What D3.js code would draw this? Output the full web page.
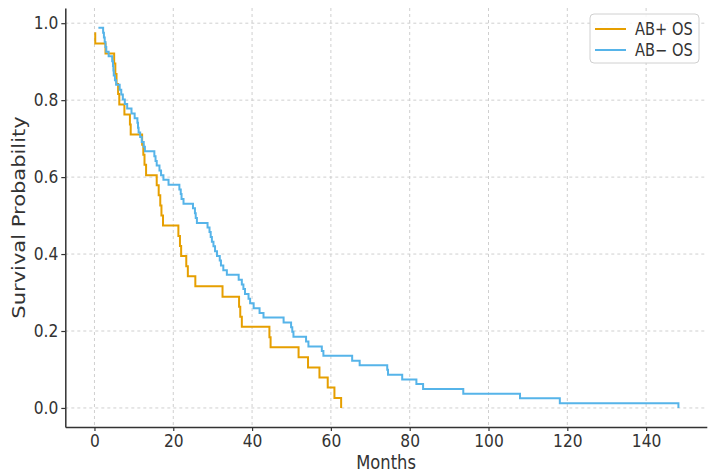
<!DOCTYPE html>
<html>
<head>
<meta charset="utf-8">
<script src="https://cdn.jsdelivr.net/npm/d3@7"></script>
<style>
  body { margin: 0; background: #fff; }
  svg { display: block; }
  text { font-family: "DejaVu Sans", sans-serif; fill: #333; }
</style>
</head>
<body>
<svg id="chart" width="714" height="476"></svg>
<script>
// ---- data (months, survival probability) ----
const seriesNames = ["AB+ OS", "AB\u2212 OS"];
const seriesColors = ["#E69F00", "#56B4E9"];

const abPosTime = [0, 0.2, 2.8, 5.0, 5.3, 5.6, 6.0, 6.3, 7.6, 9.0, 9.2, 12.1, 12.4, 12.7, 13.1,
  15.8, 16.3, 16.7, 17.0, 17.4, 21.3, 21.7, 22.0, 23.3, 23.7, 25.6, 32.5, 36.7, 37.0, 37.4,
  44.4, 44.7, 51.8, 54.2, 57.1, 59.2, 60.9, 62.6];
const abPosSurv = [0.974, 0.947, 0.921, 0.895, 0.868, 0.842, 0.816, 0.789, 0.763, 0.737, 0.711,
  0.684, 0.658, 0.632, 0.605, 0.579, 0.553, 0.526, 0.500, 0.474, 0.447, 0.421, 0.395, 0.368,
  0.342, 0.316, 0.289, 0.263, 0.237, 0.211, 0.184, 0.158, 0.132, 0.105, 0.079, 0.053, 0.026, 0.000];

const abNegTime = [1.0, 2.2, 2.4, 2.6, 2.8, 3.0, 3.6, 4.5, 4.7, 4.8, 4.9, 5.2, 5.5, 6.4, 6.8, 7.2,
  7.7, 8.3, 9.4, 10.2, 10.9, 11.05, 11.2, 11.6, 12.0, 12.5, 12.8, 15.2, 15.5, 15.8, 16.5, 16.9,
  17.5, 18.8, 21.55, 21.9, 22.1, 22.6, 25.0, 25.5, 25.7, 26.0, 28.7, 29.2, 29.5, 29.8, 30.2,
  30.6, 31.1, 31.8, 32.1, 32.7, 33.6, 36.6, 37.4, 37.8, 38.2, 39.1, 39.5, 40.4, 41.9, 42.9,
  48.0, 49.9, 50.2, 50.5, 53.7, 54.3, 57.7, 58.1, 65.4, 67.3, 74.3, 74.5, 78.1, 81.7, 83.4,
  93.6, 108.0, 118.1, 148.2];
const abNegSurv = [0.988, 0.975, 0.963, 0.951, 0.938, 0.926, 0.914, 0.901, 0.889, 0.877, 0.864,
  0.852, 0.840, 0.827, 0.815, 0.802, 0.790, 0.778, 0.765, 0.753, 0.741, 0.728, 0.716, 0.704,
  0.691, 0.679, 0.667, 0.654, 0.642, 0.630, 0.617, 0.605, 0.593, 0.580, 0.568, 0.556, 0.543,
  0.531, 0.519, 0.506, 0.494, 0.481, 0.469, 0.457, 0.444, 0.432, 0.420, 0.407, 0.395, 0.383,
  0.370, 0.358, 0.346, 0.333, 0.321, 0.309, 0.296, 0.284, 0.272, 0.259, 0.247, 0.235, 0.222,
  0.210, 0.198, 0.185, 0.173, 0.160, 0.148, 0.136, 0.123, 0.111, 0.099, 0.086, 0.074, 0.062,
  0.049, 0.037, 0.025, 0.012, 0.000];

const xTicks = [0, 20, 40, 60, 80, 100, 120, 140];
const yTicks = [0.0, 0.2, 0.4, 0.6, 0.8, 1.0];
const xLabel = "Months";
const yLabel = "Survival Probability";

// ---- layout ----
const svg = d3.select("#chart");
const x = d3.scaleLinear().domain([-7.4, 155.4]).range([65.3, 706.8]);
const y = d3.scaleLinear().domain([-0.0495, 1.0395]).range([427, 8]);
const SX = 0.86; // horizontal squeeze of the reference text

// grid
const grid = svg.append("g");
grid.selectAll("line.vx").data(xTicks).join("line")
  .attr("x1", d => x(d)).attr("x2", d => x(d))
  .attr("y1", y.range()[1]).attr("y2", y.range()[0])
  .attr("stroke", "#cfcfcf").attr("stroke-width", 1).attr("stroke-dasharray", "3,3");
grid.selectAll("line.hy").data(yTicks).join("line")
  .attr("x1", x.range()[0]).attr("x2", x.range()[1])
  .attr("y1", d => y(d)).attr("y2", d => y(d))
  .attr("stroke", "#cfcfcf").attr("stroke-width", 1).attr("stroke-dasharray", "3,3");

// lines
const series = [
  abPosTime.map((t, i) => [t, abPosSurv[i]]),
  abNegTime.map((t, i) => [t, abNegSurv[i]])
];
const line = d3.line().x(d => x(d[0])).y(d => y(d[1])).curve(d3.curveStepAfter);
series.forEach((s, i) => {
  svg.append("path").datum(s)
    .attr("d", line)
    .attr("fill", "none")
    .attr("stroke", seriesColors[i])
    .attr("stroke-width", 2);
});

// axes
const xAxis = svg.append("g").attr("transform", `translate(0,${y.range()[0]})`)
  .call(d3.axisBottom(x).tickValues(xTicks).tickFormat(d3.format("d")).tickSize(4).tickPadding(3).tickSizeOuter(0));
const yAxis = svg.append("g").attr("transform", `translate(${x.range()[0]},0)`)
  .call(d3.axisLeft(y).tickValues(yTicks).tickFormat(d3.format(".1f")).tickSize(4).tickPadding(3).tickSizeOuter(0));
[xAxis, yAxis].forEach(a => {
  a.select(".domain").attr("stroke", "#333").attr("stroke-width", 1.5);
  a.selectAll(".tick line").attr("stroke", "#333").attr("stroke-width", 1.2);
  a.selectAll(".tick text").attr("font-size", 18).attr("fill", "#333")
    .attr("font-family", "DejaVu Sans, sans-serif");
});
xAxis.selectAll(".tick text").attr("transform", `scale(${SX},1)`);
yAxis.selectAll(".tick text").attr("x", -7 / SX).attr("transform", `scale(${SX},1)`);

// axis labels
const cx = (x.range()[0] + x.range()[1]) / 2;
svg.append("text").attr("transform", `translate(${cx},469) scale(${SX},1)`)
  .attr("text-anchor", "middle").attr("font-size", 19).text(xLabel);
svg.append("text")
  .attr("transform", `translate(25,${(y.range()[0] + y.range()[1]) / 2}) rotate(-90) scale(1.05,${SX})`)
  .attr("text-anchor", "middle").attr("font-size", 20).text(yLabel);

// legend
const lg = svg.append("g");
lg.append("rect").attr("x", 590).attr("y", 14).attr("width", 109).attr("height", 49)
  .attr("rx", 4).attr("fill", "#fff").attr("fill-opacity", 0.85)
  .attr("stroke", "#d0d0d0").attr("stroke-width", 1);
seriesNames.forEach((name, i) => {
  const yy = 29 + i * 21;
  lg.append("line").attr("x1", 595).attr("x2", 626).attr("y1", yy).attr("y2", yy)
    .attr("stroke", seriesColors[i]).attr("stroke-width", 2);
  lg.append("text").attr("transform", `translate(635,${yy + 6}) scale(${SX},1)`)
    .attr("font-size", 17).text(name);
});
</script>
</body>
</html>
